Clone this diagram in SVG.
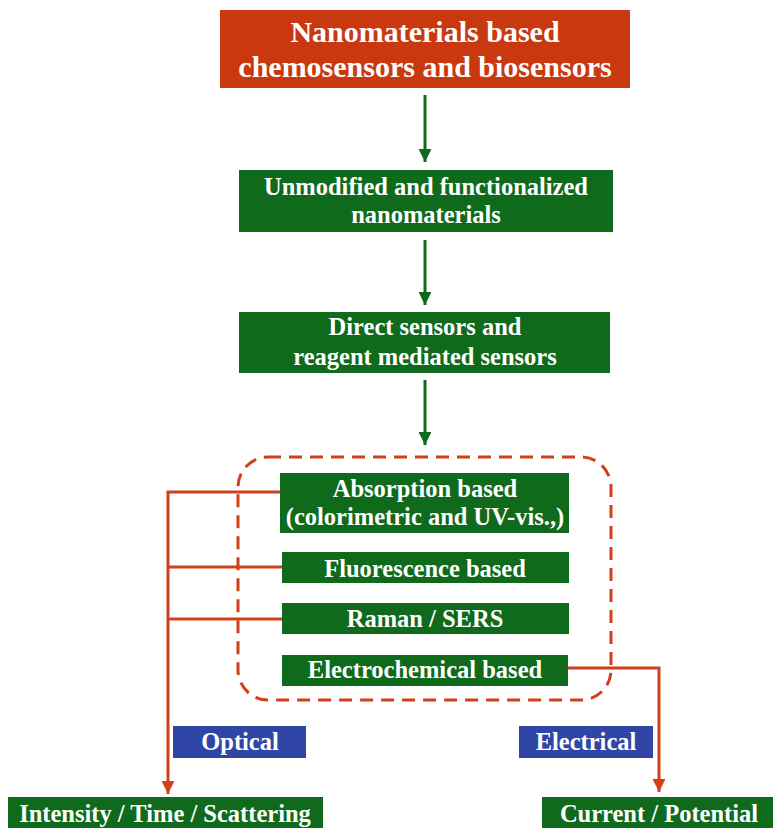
<svg xmlns="http://www.w3.org/2000/svg" width="773" height="828" viewBox="0 0 773 828">
<style>
.t{font-family:"Liberation Serif","Times New Roman",serif;font-weight:bold;fill:#fff;text-anchor:middle;font-size:24.5px}
.g{fill:#0F6A1C}
.b{fill:#2F46A6}
.gl{stroke:#0F6A1C;stroke-width:3;fill:none}
.rl{stroke:#D0401A;stroke-width:3;fill:none}
</style>
<defs>
<marker id="ag" viewBox="0 0 10 10" refX="10" refY="5" markerWidth="4.3" markerHeight="4.3" orient="auto" markerUnits="strokeWidth"><path d="M0,0L10,5L0,10z" fill="#0F6A1C"/></marker>
<marker id="ar" viewBox="0 0 10 10" refX="10" refY="5" markerWidth="4.3" markerHeight="4.3" orient="auto" markerUnits="strokeWidth"><path d="M0,0L10,5L0,10z" fill="#D0401A"/></marker>
</defs>
<rect width="773" height="828" fill="#fff"/>
<g id="connectors">
<line class="gl" x1="425" y1="95" x2="425" y2="162" marker-end="url(#ag)"/>
<line class="gl" x1="425" y1="240" x2="425" y2="305" marker-end="url(#ag)"/>
<line class="gl" x1="425" y1="380" x2="425" y2="445" marker-end="url(#ag)"/>
<path class="rl" d="M280,492H168V794" marker-end="url(#ar)"/>
<line class="rl" x1="168" y1="567" x2="282" y2="567"/>
<line class="rl" x1="168" y1="619" x2="282" y2="619"/>
<path class="rl" d="M568,668H659V792" marker-end="url(#ar)"/>
</g>
<g id="group-box">
<rect x="238" y="457" width="373" height="243" rx="30" ry="30" fill="none" stroke="#D0401A" stroke-width="3" stroke-dasharray="13 8"/>
</g>
<g id="title">
<rect x="220" y="10" width="410" height="78" fill="#C9380F"/>
<text class="t" x="425" y="42" style="font-size:30px">Nanomaterials based</text>
<text class="t" x="425" y="77" style="font-size:30px">chemosensors and biosensors</text>
</g>
<g id="unmodified">
<rect class="g" x="239" y="170" width="374" height="62"/>
<text class="t" x="426" y="195">Unmodified and functionalized</text>
<text class="t" x="426" y="223">nanomaterials</text>
</g>
<g id="direct">
<rect class="g" x="239" y="312" width="371" height="61"/>
<text class="t" x="425" y="335">Direct sensors and</text>
<text class="t" x="425" y="365">reagent mediated sensors</text>
</g>
<g id="absorption">
<rect class="g" x="280" y="473" width="289" height="60"/>
<text class="t" x="425" y="497">Absorption based</text>
<text class="t" x="425" y="525">(colorimetric and UV-vis.,)</text>
</g>
<g id="fluorescence">
<rect class="g" x="282" y="552" width="287" height="31"/>
<text class="t" x="425" y="577">Fluorescence based</text>
</g>
<g id="raman">
<rect class="g" x="282" y="603" width="287" height="31"/>
<text class="t" x="425" y="627">Raman / SERS</text>
</g>
<g id="electrochemical">
<rect class="g" x="282" y="655" width="286" height="31"/>
<text class="t" x="425" y="678">Electrochemical based</text>
</g>
<g id="optical">
<rect class="b" x="173" y="726" width="133" height="32"/>
<text class="t" x="240" y="750">Optical</text>
</g>
<g id="electrical">
<rect class="b" x="519" y="726" width="134" height="32"/>
<text class="t" x="586" y="750">Electrical</text>
</g>
<g id="intensity">
<rect class="g" x="8" y="797" width="315" height="31"/>
<text class="t" x="165" y="822">Intensity / Time / Scattering</text>
</g>
<g id="current">
<rect class="g" x="542" y="797" width="231" height="31"/>
<text class="t" x="659" y="822">Current / Potential</text>
</g>
</svg>
